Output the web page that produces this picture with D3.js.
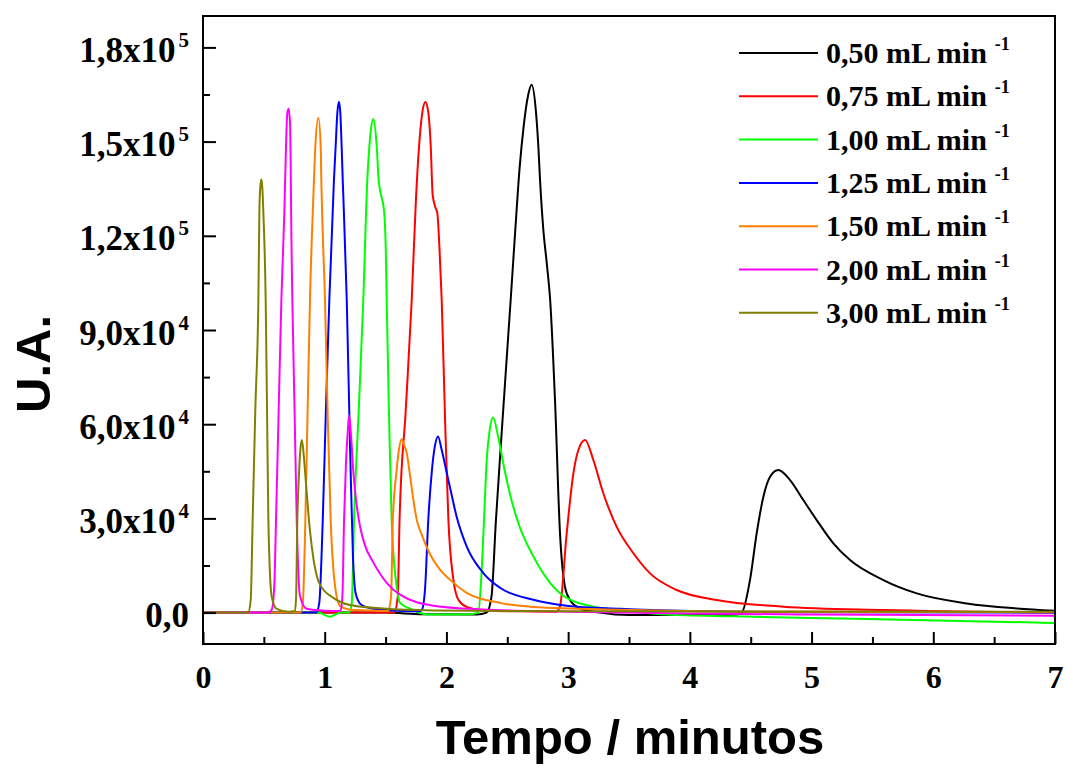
<!DOCTYPE html>
<html>
<head>
<meta charset="utf-8">
<script src="https://cdn.jsdelivr.net/npm/d3@7"></script>
<style>
  body { margin: 0; background: #fff; }
  svg { display: block; }
</style>
</head>
<body>
<div id="chart"></div>
<script>
// Series data: [tempo (min), U.A.]
const s050 = [[0,0],[1.5,0],[1.8,-500],[2.25,-600],[2.33,0],[2.37,5000],[2.407,29600],[2.45,55000],[2.49,78000],[2.528,99700],[2.566,122000],[2.60,141000],[2.635,155000],[2.67,164500],[2.70,168100],[2.736,159300],[2.755,148600],[2.769,137900],[2.796,122000],[2.824,111400],[2.852,99700],[2.892,67700],[2.933,25300],[2.974,8200],[3.015,4000],[3.098,1300],[3.26,0],[3.5,-800],[4.35,-800],[4.426,0],[4.494,10350],[4.549,25230],[4.604,36900],[4.659,43270],[4.727,45400],[4.823,42200],[4.932,35840],[5.042,29470],[5.179,22050],[5.316,16730],[5.59,10350],[5.864,6110],[6.275,2930],[6.686,1340],[7.0,570]];

const s075 = [[0,0],[1.57,0],[1.60,5000],[1.615,29600],[1.665,64000],[1.715,99700],[1.75,132000],[1.78,151000],[1.805,160000],[1.827,162600],[1.851,159300],[1.871,148600],[1.887,133000],[1.91,129000],[1.925,127300],[1.942,116700],[1.961,99700],[1.99,60000],[2.016,29600],[2.057,10500],[2.098,4100],[2.166,1800],[2.30,700],[2.60,400],[2.90,300],[2.933,2000],[2.988,25200],[3.043,44350],[3.084,51800],[3.139,55000],[3.207,48600],[3.289,38000],[3.399,27300],[3.536,18900],[3.673,12500],[3.892,7200],[4.221,4000],[4.768,1900],[5.59,800],[7.0,0]];

const s100 = [[0,0],[0.95,0],[1.0,-800],[1.043,-1300],[1.09,-600],[1.13,0],[1.20,0],[1.222,3000],[1.241,29600],[1.28,65000],[1.317,99700],[1.35,137900],[1.367,148600],[1.38,154000],[1.40,157200],[1.427,148600],[1.443,137900],[1.454,134600],[1.487,128200],[1.501,116700],[1.509,99700],[1.53,60000],[1.55,29600],[1.591,8400],[1.619,3100],[1.70,1300],[1.80,-300],[1.84,-600],[2.17,-600],[2.262,0],[2.29,13700],[2.309,29600],[2.33,48000],[2.355,58000],[2.383,62100],[2.43,55000],[2.48,45000],[2.53,36500],[2.60,27500],[2.714,17900],[2.851,9500],[2.988,4700],[3.262,1500],[3.50,500],[3.81,-640],[4.36,-1200],[5.453,-2000],[7.0,-3300]];

const s125 = [[0,0],[0.93,0],[0.955,3000],[0.984,29600],[1.01,65000],[1.038,99700],[1.076,137900],[1.09,148600],[1.104,159300],[1.117,162700],[1.128,159300],[1.139,148600],[1.148,137900],[1.181,99700],[1.21,50000],[1.232,18000],[1.255,6000],[1.30,2500],[1.40,1200],[1.60,600],[1.78,400],[1.80,1000],[1.825,8000],[1.851,29600],[1.88,45000],[1.905,53000],[1.931,56100],[1.96,52000],[2.00,45000],[2.04,38000],[2.084,30500],[2.166,21100],[2.303,12600],[2.44,7900],[2.714,4100],[2.988,2200],[3.426,1200],[4.0,500],[5.0,100],[7.0,0]];

const s150 = [[0,0],[0.80,0],[0.82,3000],[0.841,29600],[0.86,65000],[0.879,99700],[0.912,137900],[0.923,148600],[0.948,157600],[0.967,148600],[0.972,137900],[1.002,99700],[1.025,62000],[1.049,29600],[1.085,8400],[1.126,2100],[1.20,1000],[1.35,700],[1.50,500],[1.52,600],[1.545,5000],[1.56,29600],[1.59,45000],[1.61,52000],[1.632,55200],[1.655,53000],[1.673,51000],[1.70,44000],[1.728,36000],[1.756,29600],[1.80,24500],[1.86,19000],[1.95,13500],[2.029,10500],[2.166,6300],[2.44,3100],[2.714,1800],[3.426,900],[4.5,300],[7.0,200]];

const s200 = [[0,0],[0.54,0],[0.565,1000],[0.585,8000],[0.60,29600],[0.622,65000],[0.644,99700],[0.668,127000],[0.682,148600],[0.693,159300],[0.704,160500],[0.716,155000],[0.721,140000],[0.726,120000],[0.734,99700],[0.752,65000],[0.770,29600],[0.797,5200],[0.852,1200],[1.0,600],[1.13,500],[1.145,5000],[1.159,29600],[1.175,48000],[1.19,58000],[1.20,62800],[1.215,57000],[1.235,45000],[1.26,35000],[1.29,27500],[1.33,21500],[1.399,16000],[1.509,9500],[1.619,5700],[1.892,2200],[2.30,1000],[3.0,300],[4.0,-300],[5.5,-700],[7.0,-1000]];

const s300 = [[0,0],[0.37,0],[0.392,4000],[0.408,29600],[0.43,65000],[0.455,99700],[0.463,127300],[0.470,135000],[0.479,138000],[0.488,135000],[0.496,127300],[0.515,99700],[0.526,65000],[0.537,29600],[0.564,5200],[0.605,1200],[0.70,300],[0.755,500],[0.765,5000],[0.775,29600],[0.79,45000],[0.80,52000],[0.813,55000],[0.83,49000],[0.852,38200],[0.879,26000],[0.91,16500],[0.96,9000],[1.071,4700],[1.208,2400],[1.48,1300],[1.89,700],[3.0,400],[7.0,300]];

const seriesNames = ["0,50 mL min", "0,75 mL min", "1,00 mL min", "1,25 mL min", "1,50 mL min", "2,00 mL min", "3,00 mL min"];
const seriesData = [s050, s075, s100, s125, s150, s200, s300];
const seriesColors = ["#000000", "#ff0000", "#00ff00", "#0000ff", "#ff8000", "#ff00ff", "#808000"];

const xMajor = [0, 1, 2, 3, 4, 5, 6, 7];
const xMinor = [0.5, 1.5, 2.5, 3.5, 4.5, 5.5, 6.5];
const yMajor = [0, 30000, 60000, 90000, 120000, 150000, 180000];
const yMinor = [15000, 45000, 75000, 105000, 135000, 165000];
const yTickLabels = [["0,0", ""], ["3,0x10", "4"], ["6,0x10", "4"], ["9,0x10", "4"], ["1,2x10", "5"], ["1,5x10", "5"], ["1,8x10", "5"]];

const W = 1066, H = 767;
const plot = { left: 203, right: 1055, top: 16, bottom: 644 };
const serif = "'Liberation Serif', 'Times New Roman', serif";
const sans = "'Liberation Sans', Arial, sans-serif";

const svg = d3.select("#chart").append("svg")
    .attr("width", W)
    .attr("height", H);

const x = d3.scaleLinear().domain([0, 7]).range([plot.left, plot.right]);
const y = d3.scaleLinear().domain([-10000, 190000]).range([plot.bottom, plot.top]);

// Clip lines to the frame
svg.append("clipPath").attr("id", "clip")
    .append("rect")
    .attr("x", plot.left).attr("y", plot.top)
    .attr("width", plot.right - plot.left).attr("height", plot.bottom - plot.top);

const line = d3.line()
    .x(d => x(d[0]))
    .y(d => y(d[1]))
    .curve(d3.curveMonotoneX);

svg.append("g").attr("clip-path", "url(#clip)")
    .selectAll("path")
    .data(seriesData)
    .enter().append("path")
    .attr("d", line)
    .attr("fill", "none")
    .attr("stroke", (d, i) => seriesColors[i])
    .attr("stroke-width", 2)
    .attr("stroke-linejoin", "round");

// Y axis: major and minor ticks pointing inward
const yAxis = svg.append("g")
    .attr("transform", "translate(" + plot.left + ",0)")
    .call(d3.axisLeft(y).tickValues(yMajor).tickSize(-13).tickPadding(14));
yAxis.selectAll(".tick text")
    .attr("font-family", serif)
    .attr("font-weight", "bold")
    .attr("font-size", 35)
    .attr("fill", "#000")
    .attr("dy", "0.4em")
    .each(function (d, i) {
        const t = d3.select(this).text(null);
        const lab = yTickLabels[i];
        t.append("tspan").text(lab[0]);
        if (lab[1]) {
            t.append("tspan").attr("dx", 3).attr("dy", -15).attr("font-size", 21).text(lab[1]);
        }
    });

svg.append("g")
    .attr("transform", "translate(" + plot.left + ",0)")
    .call(d3.axisLeft(y).tickValues(yMinor).tickSize(-7).tickFormat(""));

// X axis
const xAxis = svg.append("g")
    .attr("transform", "translate(0," + plot.bottom + ")")
    .call(d3.axisBottom(x).tickValues(xMajor).tickSize(-12).tickPadding(21).tickFormat(d3.format("d")));
xAxis.selectAll(".tick text")
    .attr("font-family", serif)
    .attr("font-weight", "bold")
    .attr("font-size", 32)
    .attr("fill", "#000");

svg.append("g")
    .attr("transform", "translate(0," + plot.bottom + ")")
    .call(d3.axisBottom(x).tickValues(xMinor).tickSize(-7).tickFormat(""));

svg.selectAll(".domain").remove();
svg.selectAll(".tick line").attr("stroke", "#000").attr("stroke-width", 2);

// Frame
svg.append("rect")
    .attr("x", plot.left).attr("y", plot.top)
    .attr("width", plot.right - plot.left).attr("height", plot.bottom - plot.top)
    .attr("fill", "none")
    .attr("stroke", "#000")
    .attr("stroke-width", 2);

// Axis titles
svg.append("text")
    .attr("x", 630)
    .attr("y", 754)
    .attr("text-anchor", "middle")
    .attr("font-family", sans)
    .attr("font-weight", "bold")
    .attr("font-size", 49)
    .text("Tempo / minutos");

svg.append("text")
    .attr("transform", "translate(50,364) rotate(-90)")
    .attr("text-anchor", "middle")
    .attr("font-family", sans)
    .attr("font-weight", "bold")
    .attr("font-size", 49)
    .text("U.A.");

// Legend
const legend = svg.append("g").attr("transform", "translate(739,53)");
const rows = legend.selectAll("g")
    .data(seriesNames)
    .enter().append("g")
    .attr("transform", (d, i) => "translate(0," + (i * 43.3) + ")");

rows.append("line")
    .attr("x1", 0).attr("x2", 79)
    .attr("stroke", (d, i) => seriesColors[i])
    .attr("stroke-width", 2);

const lt = rows.append("text")
    .attr("x", 87)
    .attr("y", 10)
    .attr("font-family", serif)
    .attr("font-weight", "bold")
    .attr("font-size", 30)
    .attr("fill", "#000");
lt.append("tspan").text(d => d);
lt.append("tspan").attr("dx", 8).attr("dy", -13).attr("font-size", 18).text("-1");
</script>
</body>
</html>
